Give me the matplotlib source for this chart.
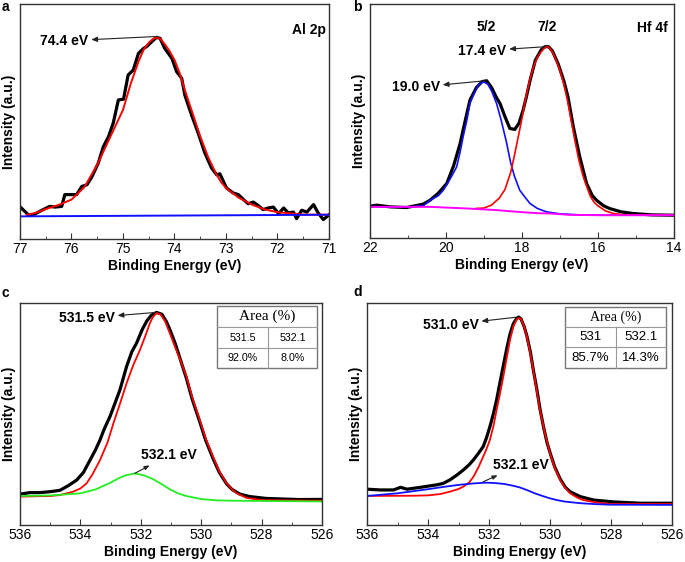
import numpy as np
import matplotlib.pyplot as plt
from matplotlib.patches import Rectangle

plt.rcParams['font.family'] = ['Liberation Sans', 'DejaVu Sans']

# --- a: Al 2p ---
a_x = [77.0, 76.84, 76.74, 76.55, 76.42, 76.32, 76.19, 76.13, 75.9, 75.8, 75.7, 75.6, 75.48,
       75.38, 75.28, 75.19, 75.09, 74.99, 74.9, 74.8, 74.7, 74.6, 74.54, 74.44, 74.35, 74.28,
       74.19, 74.05, 73.96, 73.86, 73.8, 73.67, 73.54, 73.41, 73.28, 73.18, 73.12, 72.99, 72.86,
       72.76, 72.66, 72.57, 72.47, 72.37, 72.28, 72.18, 72.08, 71.98, 71.88, 71.79, 71.69, 71.63,
       71.53, 71.43, 71.3, 71.21, 71.11, 71.0]
a_y = [0.05, 0.005, 0.005, 0.034, 0.052, 0.048, 0.052, 0.118, 0.118, 0.164, 0.173, 0.22, 0.295,
       0.388, 0.444, 0.519, 0.649, 0.653, 0.789, 0.817, 0.91, 0.938, 0.948, 0.976, 1.0, 0.994,
       0.938, 0.882, 0.808, 0.77, 0.677, 0.565, 0.463, 0.351, 0.267, 0.229, 0.235, 0.155, 0.127,
       0.118, 0.09, 0.067, 0.076, 0.056, 0.034, 0.043, 0.048, 0.011, 0.043, 0.015, 0.02, -0.017,
       0.03, 0.02, 0.062, 0.015, -0.022, 0.005]
a_fit_x = [76.87, 76.7, 76.5, 76.25, 76.0, 75.75, 75.5, 75.25, 75.0, 74.85, 74.7, 74.6, 74.5,
           74.42, 74.35, 74.27, 74.2, 74.1, 74.0, 73.9, 73.8, 73.65, 73.5, 73.35, 73.2, 73.1,
           73.0, 72.75, 72.5, 72.25, 72.0, 71.5, 71.0]
a_fit_y = [0.005, 0.015, 0.037, 0.06, 0.09, 0.16, 0.285, 0.44, 0.593, 0.74, 0.864, 0.93, 0.97,
           0.99, 1.0, 0.99, 0.966, 0.925, 0.873, 0.8, 0.705, 0.575, 0.444, 0.33, 0.239, 0.19,
           0.155, 0.1, 0.062, 0.035, 0.019, 0.006, 0.005]
a_bg_x = [77.0, 71.0]
a_bg_y = [-0.004, 0.005]

# --- b: Hf 4f ---
b_x = [22.0, 21.82, 21.47, 21.04, 20.6, 20.42, 20.2, 19.98, 19.8, 19.63, 19.5, 19.37, 19.2,
       19.05, 18.93, 18.8, 18.67, 18.58, 18.45, 18.32, 18.19, 18.08, 17.97, 17.88, 17.79, 17.65,
       17.5, 17.4, 17.3, 17.2, 17.05, 16.9, 16.79, 16.65, 16.48, 16.3, 16.15, 16.04, 15.85,
       15.69, 15.4, 15.08, 14.6, 14.03]
b_y = [0.063, 0.069, 0.059, 0.055, 0.075, 0.098, 0.14, 0.196, 0.3, 0.43, 0.56, 0.686, 0.76,
       0.795, 0.8, 0.76, 0.7, 0.667, 0.59, 0.52, 0.514, 0.55, 0.628, 0.71, 0.8, 0.92,
       0.98, 1.0, 1.0, 0.975, 0.9, 0.8, 0.706, 0.53, 0.353, 0.196, 0.125, 0.098, 0.065,
       0.049, 0.03, 0.02, 0.012, 0.01]
b52_x = [22.0, 21.0, 20.6, 20.42, 20.2, 20.07, 19.9, 19.8, 19.72, 19.63, 19.55, 19.45, 19.37,
         19.25, 19.15, 19.02, 18.9, 18.8, 18.67, 18.55, 18.41, 18.3, 18.2, 18.06, 17.9, 17.79,
         17.6, 17.36, 17.0, 16.5, 16.0, 14.0]
b52_y = [0.06, 0.058, 0.065, 0.098, 0.125, 0.157, 0.22, 0.26, 0.294, 0.38, 0.47, 0.57, 0.667,
         0.73, 0.775, 0.794, 0.78, 0.74, 0.667, 0.57, 0.44, 0.32, 0.24, 0.157, 0.11, 0.079,
         0.05, 0.03, 0.018, 0.012, 0.01, 0.01]
b72_x = [19.2, 19.0, 18.8, 18.6, 18.45, 18.3, 18.2, 18.1, 18.0, 17.9, 17.8, 17.7, 17.6, 17.5,
         17.4, 17.35, 17.3, 17.2, 17.1, 17.0, 16.9, 16.8, 16.7, 16.6, 16.5, 16.4, 16.3, 16.2,
         16.1, 16.0, 15.8, 15.6, 15.3, 15.0, 14.0]
b72_y = [0.05, 0.052, 0.07, 0.11, 0.16, 0.26, 0.36, 0.47, 0.58, 0.7, 0.8, 0.88, 0.935, 0.97,
         0.995, 1.0, 0.998, 0.97, 0.92, 0.86, 0.78, 0.68, 0.56, 0.44, 0.33, 0.245, 0.18, 0.12,
         0.085, 0.065, 0.035, 0.02, 0.012, 0.01, 0.01]
b_bg_x = [22.0, 20.42, 19.5, 18.67, 18.3, 18.0, 17.6, 17.27, 16.74, 16.0, 14.0]
b_bg_y = [0.059, 0.059, 0.05, 0.04, 0.033, 0.028, 0.022, 0.02, 0.012, 0.01, 0.01]

# --- c: O 1s ---
c_x = [536.0, 535.67, 535.34, 535.0, 534.68, 534.4, 534.12, 533.9, 533.68, 533.5, 533.35,
       533.2, 533.02, 532.85, 532.69, 532.47, 532.3, 532.14, 531.95, 531.8, 531.65, 531.48,
       531.3, 531.15, 531.04, 530.85, 530.65, 530.49, 530.3, 530.05, 529.85, 529.61, 529.4,
       529.16, 528.98, 528.72, 528.39, 527.84, 527.29, 526.74, 526.0]
c_y = [0.035, 0.043, 0.043, 0.048, 0.055, 0.08, 0.11, 0.15, 0.216, 0.27, 0.323,
       0.385, 0.447, 0.52, 0.589, 0.713, 0.79, 0.837, 0.91, 0.955, 0.985, 1.0,
       0.99, 0.95, 0.91, 0.83, 0.73, 0.65, 0.54, 0.42, 0.32, 0.225, 0.15,
       0.09, 0.06, 0.035, 0.022, 0.012, 0.009, 0.006, 0.007]
c_main_x = [536.0, 535.0, 534.68, 534.24, 534.0, 533.79, 533.6, 533.35, 533.1, 532.91, 532.7,
            532.47, 532.25, 532.03, 531.85, 531.7, 531.6, 531.48, 531.35, 531.2, 531.04, 530.85,
            530.65, 530.49, 530.3, 530.05, 529.85, 529.61, 529.4, 529.16, 528.98, 528.83, 528.5,
            528.0, 526.0]
c_main_y = [0.022, 0.025, 0.03, 0.048, 0.065, 0.093, 0.14, 0.216, 0.31, 0.41, 0.51,
            0.624, 0.72, 0.8, 0.875, 0.943, 0.975, 0.997, 0.99, 0.955, 0.89, 0.81,
            0.73, 0.66, 0.55, 0.43, 0.33, 0.234, 0.155, 0.093, 0.06, 0.04, 0.015,
            0.003, 0.0]
c_sub_x = [536.0, 535.0, 534.0, 533.5, 533.0, 532.75, 532.5, 532.2, 531.9, 531.6, 531.3, 531.0,
           530.75, 530.5, 530.0, 529.5, 529.0, 526.0]
c_sub_y = [0.025, 0.028, 0.039, 0.06, 0.096, 0.118, 0.135, 0.145, 0.135, 0.115, 0.087, 0.057,
           0.038, 0.025, 0.009, 0.002, 0.0, -0.004]
c_table = ['Area (%)', '531.5', '532.1', '92.0%', '8.0%']

# --- d: O 1s ---
d_x = [536.0, 535.56, 535.13, 534.9, 534.69, 534.25, 533.81, 533.72, 533.5, 533.28, 533.05,
       532.84, 532.65, 532.51, 532.35, 532.19, 532.08, 531.97, 531.86, 531.75, 531.64, 531.53,
       531.42, 531.31, 531.2, 531.1, 531.03, 530.95, 530.85, 530.76, 530.64, 530.55, 530.43,
       530.33, 530.21, 530.1, 529.99, 529.85, 529.67, 529.5, 529.34, 529.0, 528.57, 527.91,
       527.04, 526.0]
d_y = [0.079, 0.075, 0.075, 0.089, 0.079, 0.089, 0.1, 0.102, 0.11, 0.129, 0.155,
       0.182, 0.21, 0.236, 0.27, 0.307, 0.355, 0.414, 0.48, 0.557, 0.65, 0.74,
       0.83, 0.91, 0.965, 0.99, 1.0, 0.99, 0.95, 0.9, 0.81, 0.72, 0.611,
       0.51, 0.41, 0.33, 0.27, 0.2, 0.135, 0.09, 0.065, 0.039, 0.021, 0.011,
       0.004, 0.004]
d_main_x = [536.0, 534.5, 534.0, 533.6, 533.28, 533.0, 532.84, 532.65, 532.51, 532.35, 532.19,
            532.08, 531.97, 531.85, 531.75, 531.64, 531.53, 531.42, 531.31, 531.2, 531.1,
            531.04, 530.95, 530.85, 530.76, 530.65, 530.55, 530.44, 530.33, 530.17, 530.0,
            529.85, 529.67, 529.5, 529.34, 529.1, 528.91, 528.5, 528.0, 526.0]
d_main_y = [0.043, 0.044, 0.046, 0.053, 0.066, 0.08, 0.093, 0.115, 0.146, 0.195, 0.253,
            0.295, 0.343, 0.42, 0.504, 0.59, 0.682, 0.78, 0.879, 0.95, 0.985,
            0.995, 0.99, 0.95, 0.896, 0.81, 0.718, 0.61, 0.504, 0.38, 0.272,
            0.195, 0.129, 0.085, 0.057, 0.033, 0.021, 0.008, 0.0, 0.0]
d_sub_x = [536.0, 535.5, 535.0, 534.5, 534.0, 533.5, 533.0, 532.5, 532.1, 531.8, 531.5, 531.25,
           531.0, 530.75, 530.5, 530.25, 530.0, 529.75, 529.5, 529.0, 528.5, 528.0, 526.0]
d_sub_y = [0.043, 0.05, 0.057, 0.068, 0.079, 0.091, 0.102, 0.11, 0.114, 0.112, 0.107, 0.099,
           0.089, 0.074, 0.057, 0.043, 0.03, 0.02, 0.0125, 0.004, -0.001, -0.004, -0.005]
d_table = ['Area (%)', '531', '532.1', '85.7%', '14.3%']

fig = plt.figure(figsize=(6.85, 5.62), dpi=100)
W, H = 685, 562


def make_ax(l, t, r, b):
    # pixel box -> figure fraction
    ax = fig.add_axes([l / W, 1 - b / H, (r - l) / W, (b - t) / H])
    for s in ax.spines.values():
        s.set_color('#333333')
        s.set_linewidth(1.0)
    ax.set_yticks([])
    ax.tick_params(axis='x', which='both', direction='in', labelsize=10, pad=2, color='#333333')
    ax.tick_params(axis='x', which='major', length=4)
    ax.tick_params(axis='x', which='minor', length=2.5)
    ax.set_xlabel('Binding Energy (eV)', fontsize=10, fontweight='bold', labelpad=2)
    ax.set_ylabel('Intensity (a.u.)', fontsize=10, fontweight='bold', labelpad=3)
    return ax


def peak_label(ax, text, xy, xytext):
    ax.annotate(text, xy=xy, xytext=xytext, ha='right', va='center', fontsize=10,
                fontweight='bold',
                arrowprops=dict(arrowstyle='<|-,head_length=0.35,head_width=0.15', color='#222222',
                                lw=0.8, shrinkA=0, shrinkB=0))


def draw_table(ax, x0, x1, xm, ys, cells, hsize, rsize):
    y0, y1, y2, y3 = ys
    tr = ax.transAxes
    ax.add_patch(Rectangle((x0, y3), x1 - x0, y0 - y3, transform=tr, facecolor='white',
                           edgecolor='#777777', lw=1.0, zorder=5))
    for yy in (y1, y2):
        ax.plot([x0, x1], [yy, yy], transform=tr, color='#999999', lw=0.8, zorder=6)
    ax.plot([xm, xm], [y1, y3], transform=tr, color='#999999', lw=0.8, zorder=6)
    ax.text((x0 + x1) / 2, (y0 + y1) / 2, cells[0], transform=tr, ha='center', va='center',
            fontsize=hsize, family=['Liberation Serif'], zorder=7)
    for i, c in enumerate(cells[1:]):
        cx = (x0 + xm) / 2 if i % 2 == 0 else (xm + x1) / 2
        cy = (y1 + y2) / 2 if i < 2 else (y2 + y3) / 2
        ax.text(cx, cy, c, transform=tr, ha='center', va='center', fontsize=rsize, zorder=7)


# a
ax = make_ax(20, 4, 329, 239)
ax.plot(a_x, a_y, color='black', lw=2.3)
ax.plot(a_fit_x, a_fit_y, color='red', lw=1.4)
ax.plot(a_bg_x, a_bg_y, color='#1010ff', lw=1.4)
ax.set_xlim(77, 71)
ax.set_ylim(-0.131, 1.187)
ax.set_xticks(np.arange(71, 78, 1))
ax.set_xticks(np.arange(71, 77.5, 0.5), minor=True)
ax.text(0.99, 0.89, 'Al 2p', transform=ax.transAxes, ha='right', va='center', fontsize=10,
        fontweight='bold')
peak_label(ax, '74.4 eV', (74.33, 1.005), (75.67, 0.98))

# b
ax = make_ax(370, 4, 674, 238)
ax.plot(b_x, b_y, color='black', lw=2.3)
ax.plot(b52_x, b52_y, color='#1010ff', lw=1.2)
ax.plot(b72_x, b72_y, color='red', lw=1.2)
ax.plot(b_bg_x, b_bg_y, color='#ff00ff', lw=1.4)
ax.set_xlim(22, 14)
ax.set_ylim(-0.124, 1.251)
ax.set_xticks(np.arange(14, 23, 2))
ax.set_xticks(np.arange(14, 23, 1), minor=True)
ax.text(0.98, 0.897, 'Hf 4f', transform=ax.transAxes, ha='right', va='center', fontsize=10,
        fontweight='bold')
ax.text(18.93, 1.118, '5/2', ha='center', va='center', fontsize=10, fontweight='bold')
ax.text(17.35, 1.118, '7/2', ha='center', va='center', fontsize=10, fontweight='bold')
peak_label(ax, '17.4 eV', (17.38, 1.0), (18.41, 0.976))
peak_label(ax, '19.0 eV', (18.97, 0.8), (20.16, 0.761))

# c
ax = make_ax(20, 303, 322, 525)
ax.plot(c_x, c_y, color='black', lw=2.3)
ax.plot(c_main_x, c_main_y, color='red', lw=1.3)
ax.plot(c_sub_x, c_sub_y, color='#22ee22', lw=1.3)
ax.set_xlim(536, 526)
ax.set_ylim(-0.129, 1.05)
ax.set_xticks(np.arange(526, 537, 2))
ax.set_xticks(np.arange(526, 537, 1), minor=True)
peak_label(ax, '531.5 eV', (531.5, 1.0), (532.86, 0.97))
ax.annotate('532.1 eV', xy=(532.2, 0.145), xytext=(531.07, 0.243), ha='center', va='center',
            fontsize=10, fontweight='bold',
            arrowprops=dict(arrowstyle='<|-,head_length=0.3,head_width=0.12', color='#222222',
                            lw=0.8, shrinkA=1, shrinkB=0))
draw_table(ax, 0.652, 0.983, 0.821, (0.986, 0.892, 0.797, 0.707), c_table, 11, 7.7)

# d
ax = make_ax(367, 303, 672, 525)
ax.plot(d_x, d_y, color='black', lw=2.3)
ax.plot(d_main_x, d_main_y, color='red', lw=1.3)
ax.plot(d_sub_x, d_sub_y, color='#1010ff', lw=1.3)
ax.set_xlim(536, 526)
ax.set_ylim(-0.1125, 1.075)
ax.set_xticks(np.arange(526, 537, 2))
ax.set_xticks(np.arange(526, 537, 1), minor=True)
peak_label(ax, '531.0 eV', (531.05, 1.0), (532.34, 0.959))
ax.annotate('532.1 eV', xy=(532.2, 0.118), xytext=(530.97, 0.209), ha='center', va='center',
            fontsize=10, fontweight='bold',
            arrowprops=dict(arrowstyle='<|-,head_length=0.3,head_width=0.12', color='#222222',
                            lw=0.8, shrinkA=1, shrinkB=0))
draw_table(ax, 0.649, 0.98, 0.816, (0.982, 0.893, 0.80, 0.707), d_table, 10, 9.5)

# panel letters
for lab, px, py in [('a', 2, 7), ('b', 353, 7), ('c', 2, 293), ('d', 353, 292)]:
    fig.text(px / W, 1 - py / H, lab, ha='left', va='center', fontsize=10, fontweight='bold')

fig.savefig('out.png', dpi=100)
